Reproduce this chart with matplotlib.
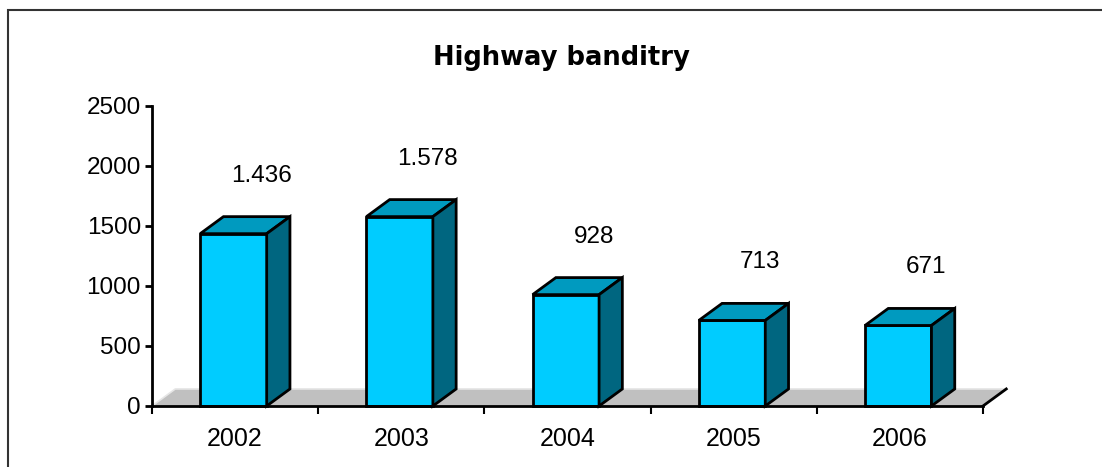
import matplotlib.pyplot as plt
from matplotlib.patches import Polygon, Rectangle

years = ['2002', '2003', '2004', '2005', '2006']
values = [1436, 1578, 928, 713, 671]
value_labels = ['1.436', '1.578', '928', '713', '671']
yticks = [0, 500, 1000, 1500, 2000, 2500]

plt.rcParams['font.family'] = ['Liberation Sans', 'DejaVu Sans']

fig = plt.figure(figsize=(11.02, 4.67), dpi=100)
ax = fig.add_axes([152 / 1102, 61 / 467, 831 / 1102, 300 / 467])
ax.set_xlim(-0.5, len(years) - 0.5)
ax.set_ylim(0, 2500)

# 3d depth in data units
dx, dy = 0.14, 142
w, off = 0.40, -0.01

front_c, top_c, side_c = '#00ccff', '#009abf', '#006680'

# floor
x0, x1 = -0.5, len(years) - 0.5
ax.add_patch(Polygon([(x0, 0), (x1, 0), (x1 + dx, dy), (x0 + dx, dy)],
                     closed=True, fc='#c0c0c0', ec='none', zorder=1, clip_on=False))
ax.plot([x0, x0 + dx, x1 + dx], [0, dy, dy], color='#e6e6e6', lw=1.2, zorder=1, clip_on=False)
ax.plot([x1, x1 + dx], [0, dy], color='black', lw=2, zorder=1, clip_on=False)

for i, v in enumerate(values):
    l, r = i + off - w / 2, i + off + w / 2
    kw = dict(closed=True, ec='black', lw=2, joinstyle='miter', zorder=3, clip_on=False)
    ax.add_patch(Polygon([(l, 0), (r, 0), (r, v), (l, v)], fc=front_c, **kw))
    ax.add_patch(Polygon([(l, v), (r, v), (r + dx, v + dy), (l + dx, v + dy)], fc=top_c, **kw))
    ax.add_patch(Polygon([(r, 0), (r + dx, dy), (r + dx, v + dy), (r, v)], fc=side_c, **kw))
    ax.annotate(value_labels[i], (i + 0.16, v + dy), xytext=(0, 29.5), textcoords='offset points',
                ha='center', va='center', fontsize=17.5)

for s in ['top', 'right']:
    ax.spines[s].set_visible(False)
for s in ['left', 'bottom']:
    ax.spines[s].set_linewidth(2)
    ax.spines[s].set_zorder(4)

ax.set_yticks(yticks)
ax.set_yticklabels([str(t) for t in yticks], fontsize=17.5)
ax.tick_params(axis='y', length=5, width=2, pad=3)
ax.set_xticks(range(len(years)))
ax.set_xticklabels(years, fontsize=18)
ax.tick_params(axis='x', which='major', length=0, pad=15)
ax.set_xticks([k - 0.5 for k in range(len(years) + 1)], minor=True)
ax.tick_params(axis='x', which='minor', length=6, width=1.5)

fig.text(561 / 1102, 1 - 58 / 467, 'Highway banditry', ha='center', va='center',
         fontsize=18.6, fontweight='bold', family='DejaVu Sans')

fig.add_artist(Rectangle((8 / 1102, -0.1), 1.2, 0.1 + (467 - 10) / 467,
                         transform=fig.transFigure, fill=False, ec='#333333', lw=1.5))

fig.savefig('out.png', dpi=100)
